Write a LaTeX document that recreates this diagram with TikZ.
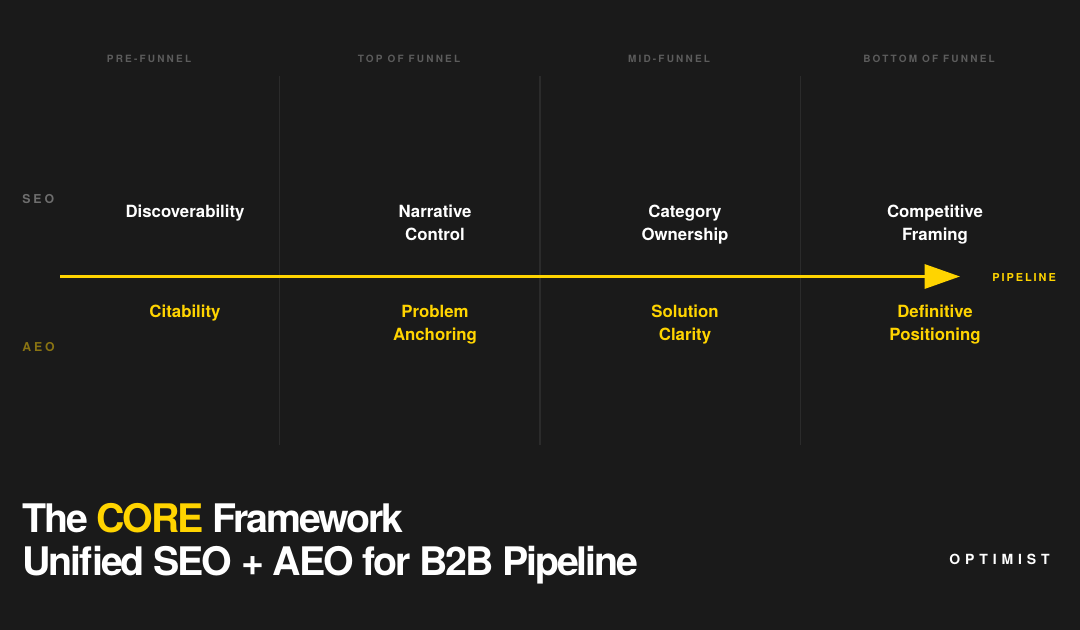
\documentclass[tikz,border=0pt]{standalone}
\usepackage{fontspec}
\setmainfont{TeX Gyre Heros}
\usetikzlibrary{arrows.meta}

\definecolor{bgdark}{HTML}{1A1A1A}
\definecolor{coreyellow}{HTML}{FFD400}
\definecolor{dimyellow}{HTML}{8A7412}
\definecolor{stagegray}{HTML}{5C5C5C}
\definecolor{rowgray}{HTML}{6E6E6E}
\definecolor{divider}{HTML}{2B2B2B}

\begin{document}
\begin{tikzpicture}[x=0.75pt,y=-0.75pt,
    stage/.style={font=\fontsize{7.5}{9}\selectfont\bfseries\addfontfeature{LetterSpace=22}, text=stagegray},
    rowlabel/.style={font=\fontsize{9.2}{11}\selectfont\bfseries\addfontfeature{LetterSpace=24}, anchor=west, inner sep=0pt},
    seoitem/.style={font=\fontsize{12.6}{17.25}\selectfont\bfseries, text=white, align=center, anchor=base},
    aeoitem/.style={font=\fontsize{12.6}{17.25}\selectfont\bfseries, text=coreyellow, align=center, anchor=base},
    headline/.style={font=\fontsize{29.5}{33}\selectfont\bfseries\addfontfeature{LetterSpace=-5.5}, text=white, anchor=base west, inner sep=0pt}]

    % background and frame
    \fill[bgdark] (0,0) rectangle (1080,630);
    \useasboundingbox (0,0) rectangle (1080,630);

    % draw dividers
    \draw[divider, line width=0.9pt] (279.5,76) -- (279.5,445);
    \draw[divider, line width=0.9pt] (540,76) -- (540,445);
    \draw[divider, line width=0.9pt] (800.5,76) -- (800.5,445);

    % stage headers
    \node[stage] (pre) at (149,58.5) {PRE-FUNNEL};
    \node[stage] (tof) at (409,58.5) {TOP OF FUNNEL};
    \node[stage] (mof) at (669,58.5) {MID-FUNNEL};
    \node[stage] (bof) at (929,58.5) {BOTTOM OF FUNNEL};

    % row labels
    \node[rowlabel, text=rowgray] (seo) at (22,199.5) {SEO};
    \node[rowlabel, text=dimyellow] (aeo) at (22,347.5) {AEO};

    % draw pipeline arrow
    \coordinate (start) at (60,276.5);
    \node[font=\fontsize{8.2}{10}\selectfont\bfseries\addfontfeature{LetterSpace=18}, text=coreyellow, anchor=west, inner sep=0pt] (pipeline) at (992,278) {PIPELINE};
    \draw[coreyellow, line width=2.3pt, -{Triangle[length=26.5pt, width=18pt]}] (start) -- (960,276.5) coordinate (tip);

    % SEO row (base = last line)
    \node[seoitem] (disc) at (185,218) {Discoverability};
    \node[seoitem] (narr) at (435,241) {Narrative\\Control};
    \node[seoitem] (cat) at (685,241) {Category\\Ownership};
    \node[seoitem] (comp) at (935,241) {Competitive\\Framing};

    % AEO row
    \node[aeoitem] (cit) at (185,318) {Citability};
    \node[aeoitem] (prob) at (435,341) {Problem\\Anchoring};
    \node[aeoitem] (sol) at (685,341) {Solution\\Clarity};
    \node[aeoitem] (defi) at (935,341) {Definitive\\Positioning};

    % add title
    \node[headline] (title) at (22,532) {The \textcolor{coreyellow}{CORE} Framework};
    \node[headline] (subtitle) at (22,575) {Unified SEO + AEO for B2B Pipeline};

    % brand
    \node[font=\fontsize{10.5}{12}\selectfont\bfseries\addfontfeature{LetterSpace=35}, text=white, anchor=base west, inner sep=0pt] (brand) at (949,564) {OPTIMIST};

\end{tikzpicture}
\end{document}
